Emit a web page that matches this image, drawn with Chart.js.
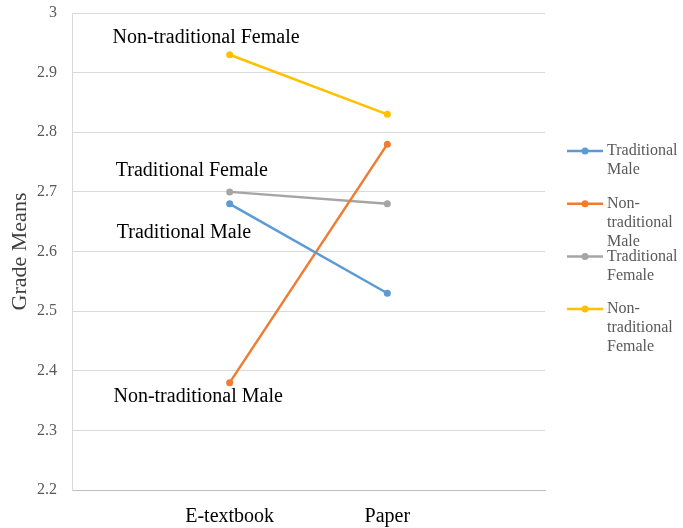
<!DOCTYPE html>
<html>
<head>
<meta charset="utf-8">
<script src="https://cdn.jsdelivr.net/npm/chart.js@4"></script>
<style>
  html, body { margin: 0; padding: 0; background: #fff; }
  #wrap { width: 683px; height: 528px; }
</style>
</head>
<body>
<div id="wrap"><canvas id="grades" width="683" height="528"></canvas></div>
<script>
const categories = ['E-textbook', 'Paper'];
const seriesNames = ['Traditional Male', 'Non-traditional Male', 'Traditional Female', 'Non-traditional Female'];
const tradMale = [2.68, 2.53];
const nonTradMale = [2.38, 2.78];
const tradFemale = [2.70, 2.68];
const nonTradFemale = [2.93, 2.83];
const yTicks = [2.2, 2.3, 2.4, 2.5, 2.6, 2.7, 2.8, 2.9, 3];
// text labels inside the plot: [text, offset from E-textbook in category steps, value]
const notes = [
  ['Non-traditional Female', -0.15, 2.958],
  ['Traditional Female', -0.24, 2.735],
  ['Traditional Male', -0.29, 2.631],
  ['Non-traditional Male', -0.20, 2.357]
];
const colors = ['#5B9BD5', '#ED7D31', '#A5A5A5', '#FFC000'];

const serif = '"Liberation Serif", "Times New Roman", serif';

// pad with empty slots so the two categories sit at 1/3 and 2/3
const labels = [''].concat(categories, ['']);
function pad(arr) { return [null].concat(arr, [null]); }

const allSeries = [tradMale, nonTradMale, tradFemale, nonTradFemale];
const datasets = allSeries.map((s, i) => ({
  label: seriesNames[i],
  data: pad(s),
  borderColor: colors[i],
  backgroundColor: colors[i],
  borderWidth: 2.5,
  pointRadius: 3.5,
  pointHoverRadius: 3.5,
  pointBorderWidth: 0
}));

function wrapText(ctx, text, maxW) {
  const parts = text.match(/[^\s-]+-?/g);
  const lines = [];
  let cur = '';
  parts.forEach(p => {
    const sep = (cur && !cur.endsWith('-')) ? ' ' : '';
    const test = cur + sep + p;
    if (cur && ctx.measureText(test).width > maxW) {
      lines.push(cur);
      cur = p;
    } else {
      cur = test;
    }
  });
  if (cur) lines.push(cur);
  return lines;
}

const notesPlugin = {
  id: 'notes',
  afterDatasetsDraw(chart) {
    const ctx = chart.ctx;
    const x = chart.scales.x, y = chart.scales.y;
    const p1 = x.getPixelForValue(1), p2 = x.getPixelForValue(2);
    ctx.save();
    ctx.font = '20px ' + serif;
    ctx.fillStyle = '#000';
    ctx.textAlign = 'center';
    ctx.textBaseline = 'middle';
    notes.forEach(n => {
      ctx.fillText(n[0], p1 + n[1] * (p2 - p1), y.getPixelForValue(n[2]));
    });
    ctx.restore();
  }
};

const sideLegend = {
  id: 'sideLegend',
  afterDraw(chart) {
    const ctx = chart.ctx;
    const area = chart.chartArea;
    const lx = area.right + 22;
    const ly = area.top + 138;
    ctx.save();
    ctx.font = '16px ' + serif;
    ctx.textBaseline = 'middle';
    chart.data.datasets.forEach((ds, i) => {
      const yy = ly + i * 52.7;
      ctx.strokeStyle = ds.borderColor;
      ctx.lineWidth = 2.5;
      ctx.beginPath();
      ctx.moveTo(lx, yy);
      ctx.lineTo(lx + 36, yy);
      ctx.stroke();
      ctx.fillStyle = ds.borderColor;
      ctx.beginPath();
      ctx.arc(lx + 18, yy, 3.5, 0, Math.PI * 2);
      ctx.fill();
      ctx.fillStyle = '#595959';
      wrapText(ctx, ds.label, 74).forEach((line, k) => {
        ctx.fillText(line, lx + 40, yy + k * 19);
      });
    });
    ctx.restore();
  }
};

new Chart(document.getElementById('grades'), {
  type: 'line',
  data: { labels: labels, datasets: datasets },
  options: {
    responsive: false,
    animation: false,
    layout: { padding: { top: 13, right: 138, left: 0, bottom: 0 } },
    plugins: {
      legend: { display: false },
      tooltip: { enabled: false }
    },
    scales: {
      x: {
        offset: false,
        grid: { display: false, drawTicks: false },
        border: { display: true, color: '#bfbfbf', width: 1 },
        ticks: {
          autoSkip: false,
          maxRotation: 0,
          padding: 15,
          color: '#000',
          font: { family: serif, size: 20 }
        },
        afterFit(scale) {
          scale.height = 38;
          scale.paddingLeft = 0;
          scale.paddingRight = 0;
        }
      },
      y: {
        min: 2.2,
        max: 3,
        afterBuildTicks(scale) { scale.ticks = yTicks.map(v => ({ value: v })); },
        grid: { color: '#d9d9d9', drawTicks: false },
        border: { display: true, color: '#d9d9d9', width: 1 },
        ticks: {
          padding: 15,
          color: '#595959',
          font: { family: serif, size: 16 },
          callback: v => String(Math.round(v * 10) / 10)
        },
        title: {
          display: true,
          text: 'Grade Means',
          color: '#404040',
          padding: { top: 7, bottom: 0 },
          font: { family: serif, size: 22 }
        },
        afterFit(scale) {
          scale.width = 72;
          scale.paddingTop = 0;
          scale.paddingBottom = 0;
        }
      }
    }
  },
  plugins: [notesPlugin, sideLegend]
});
</script>
</body>
</html>
